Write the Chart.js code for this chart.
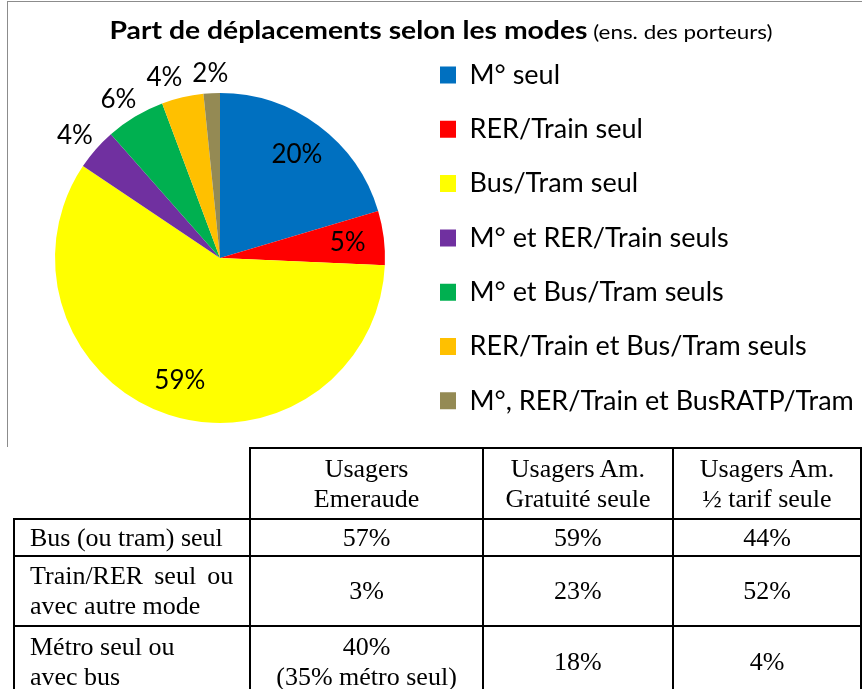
<!DOCTYPE html>
<html>
<head>
<meta charset="utf-8">
<script src="https://cdn.jsdelivr.net/npm/chart.js@4/dist/chart.umd.min.js"></script>
<style>
  body { margin: 0; background: #fff; overflow: hidden; width: 862px; height: 689px; position: relative; }
  #cadre { position: absolute; left: 7px; top: 1px; width: 900px; height: 445px;
           border-left: 1px solid #8c8c8c; border-top: 1px solid #8c8c8c; }
  #myChart { position: absolute; left: 0; top: 0; }
  #tableau { position: absolute; left: 13px; top: 447px; border-collapse: collapse; z-index: 2;
             font-family: "Liberation Serif", "Times New Roman", serif; font-size: 26px; line-height: 30px; color: #000; }
  #tableau td { border: 2px solid #000; padding: 0; text-align: center; vertical-align: middle; }
  #tableau td.rub { text-align: justify; padding: 0 16px 0 15px; }
  #tableau td.vide { border-top: none; border-left: none; }
</style>
</head>
<body>
<div id="cadre"></div>
<canvas id="myChart" width="862" height="483"></canvas>
<table id="tableau"></table>
<script>
// camembert
modes = ['M° seul', 'RER/Train seul', 'Bus/Tram seul', 'M° et RER/Train seuls',
    'M° et Bus/Tram seuls', 'RER/Train et Bus/Tram seuls', 'M°, RER/Train et BusRATP/Tram'];
parts = [20.4, 5.3, 58.7, 4.1, 5.8, 4.1, 1.6];
couleurs = ['#0070C0', '#FF0000', '#FFFF00', '#7030A0', '#00B050', '#FFC000', '#948A54'];
// où Excel a mis chaque étiquette
placement = ['dedans', 'dedans', 'dedans', 'dehors', 'dehors', 'dehors', 'dehors'];

titreGras = 'Part de déplacements selon les modes';
titreNormal = '(ens. des porteurs)';

// tableau
colonnes = ['Usagers\nEmeraude', 'Usagers Am.\nGratuité seule', 'Usagers Am.\n½ tarif seule'];
lignes = ['Bus (ou tram) seul', 'Train/RER seul ou avec autre mode', 'Métro seul ou\navec bus'];
valeurs = [
    ['57%', '59%', '44%'],
    ['3%', '23%', '52%'],
    ['40%\n(35% métro seul)', '18%', '4%'],
];

function txt(s) {
    return s.split('\n').join('<br>');
}

function buildTable() {
    var largeurs = [236, 232, 189, 187];
    var hauteurs = [71, 37, 70, 72];
    var html = '<tr style="height:' + hauteurs[0] + 'px"><td class="vide" style="width:' + largeurs[0] + 'px"></td>';
    colonnes.forEach(function (c, j) {
        html += '<td style="width:' + largeurs[j + 1] + 'px">' + txt(c) + '</td>';
    });
    html += '</tr>';
    lignes.forEach(function (l, i) {
        html += '<tr style="height:' + hauteurs[i + 1] + 'px"><td class="rub">' + txt(l) + '</td>';
        valeurs[i].forEach(function (v) {
            html += '<td>' + txt(v) + '</td>';
        });
        html += '</tr>';
    });
    document.getElementById('tableau').innerHTML = html;
}

var titrePlugin = {
    id: 'titre',
    afterDraw: function (chart) {
        var ctx = chart.ctx;
        var etire = 1.18;
        ctx.save();
        ctx.fillStyle = '#000';
        ctx.textBaseline = 'alphabetic';
        ctx.textAlign = 'left';
        ctx.font = 'bold 24px Lato';
        var wb = ctx.measureText(titreGras).width;
        ctx.font = '19px Lato';
        var wn = ctx.measureText(' ' + titreNormal).width;
        var x = 441 / etire - (wb + wn) / 2;
        ctx.scale(etire, 1);
        ctx.font = 'bold 24px Lato';
        ctx.fillText(titreGras, x, 39);
        ctx.font = '19px Lato';
        ctx.fillText(' ' + titreNormal, x + wb, 39);
        ctx.restore();
    }
};

var etiquettesPlugin = {
    id: 'etiquettes',
    afterDatasetsDraw: function (chart) {
        var ctx = chart.ctx;
        var meta = chart.getDatasetMeta(0);
        ctx.save();
        ctx.fillStyle = '#000';
        ctx.font = '26px Lato';
        ctx.textAlign = 'center';
        ctx.textBaseline = 'middle';
        var pos = [];
        meta.data.forEach(function (arc, i) {
            var p = arc.getProps(['x', 'y', 'startAngle', 'endAngle', 'outerRadius']);
            var mid = (p.startAngle + p.endAngle) / 2;
            var texte = Math.round(parts[i]) + '%';
            var w = ctx.measureText(texte).width;
            var x, y;
            if (placement[i] == 'dedans') {
                x = p.x + Math.cos(mid) * p.outerRadius * 0.78;
                y = p.y + Math.sin(mid) * p.outerRadius * 0.78;
            } else {
                var d = p.outerRadius + 10;
                x = p.x + Math.cos(mid) * (d + w / 2);
                y = p.y + Math.sin(mid) * (d + 10);
            }
            pos.push({ texte: texte, x: x, y: y, w: w, dehors: placement[i] == 'dehors' });
        });
        // les étiquettes extérieures ne se chevauchent pas
        for (var i = pos.length - 2; i >= 0; i--) {
            var a = pos[i], b = pos[i + 1];
            if (!a.dehors || !b.dehors) continue;
            if (Math.abs(a.y - b.y) < 22 && a.x + a.w / 2 + 10 > b.x - b.w / 2) {
                a.x = b.x - b.w / 2 - 10 - a.w / 2;
            }
        }
        pos.forEach(function (e) {
            ctx.fillText(e.texte, e.x, e.y);
        });
        ctx.restore();
    }
};

function renderChart() {
    Chart.defaults.font.family = 'Lato';
    var taille = 27;
    var ecart = 27.3;
    var boite = 16;
    var ctx = document.getElementById('myChart').getContext('2d');
    // largeur de la légende pour que ses carrés tombent à x = 440
    ctx.font = taille + 'px Lato';
    var maxTexte = 0;
    modes.forEach(function (m) {
        maxTexte = Math.max(maxTexte, ctx.measureText(m).width);
    });
    var largeurLegende = ecart + boite + taille / 2 + maxTexte + 10;
    var gaucheLegende = 440 - ecart;

    new Chart(ctx, {
        type: 'pie',
        data: {
            labels: modes,
            datasets: [{
                data: parts,
                backgroundColor: couleurs,
                borderWidth: 0,
                radius: 165
            }]
        },
        options: {
            responsive: false,
            animation: false,
            devicePixelRatio: 1,
            layout: {
                padding: {
                    left: 2 * 220 - gaucheLegende,
                    right: 862 - gaucheLegende - largeurLegende,
                    top: 34.2,
                    bottom: 483 - (2 * 258 - 34.2)
                }
            },
            plugins: {
                legend: {
                    position: 'right',
                    align: 'start',
                    maxWidth: 1000,
                    labels: {
                        boxWidth: boite,
                        boxHeight: 17,
                        padding: ecart,
                        color: '#000',
                        font: { family: 'Lato', size: taille }
                    }
                },
                tooltip: { enabled: false },
                title: { display: false }
            }
        },
        plugins: [etiquettesPlugin, titrePlugin]
    });
}

buildTable();
renderChart();
</script>
</body>
</html>
